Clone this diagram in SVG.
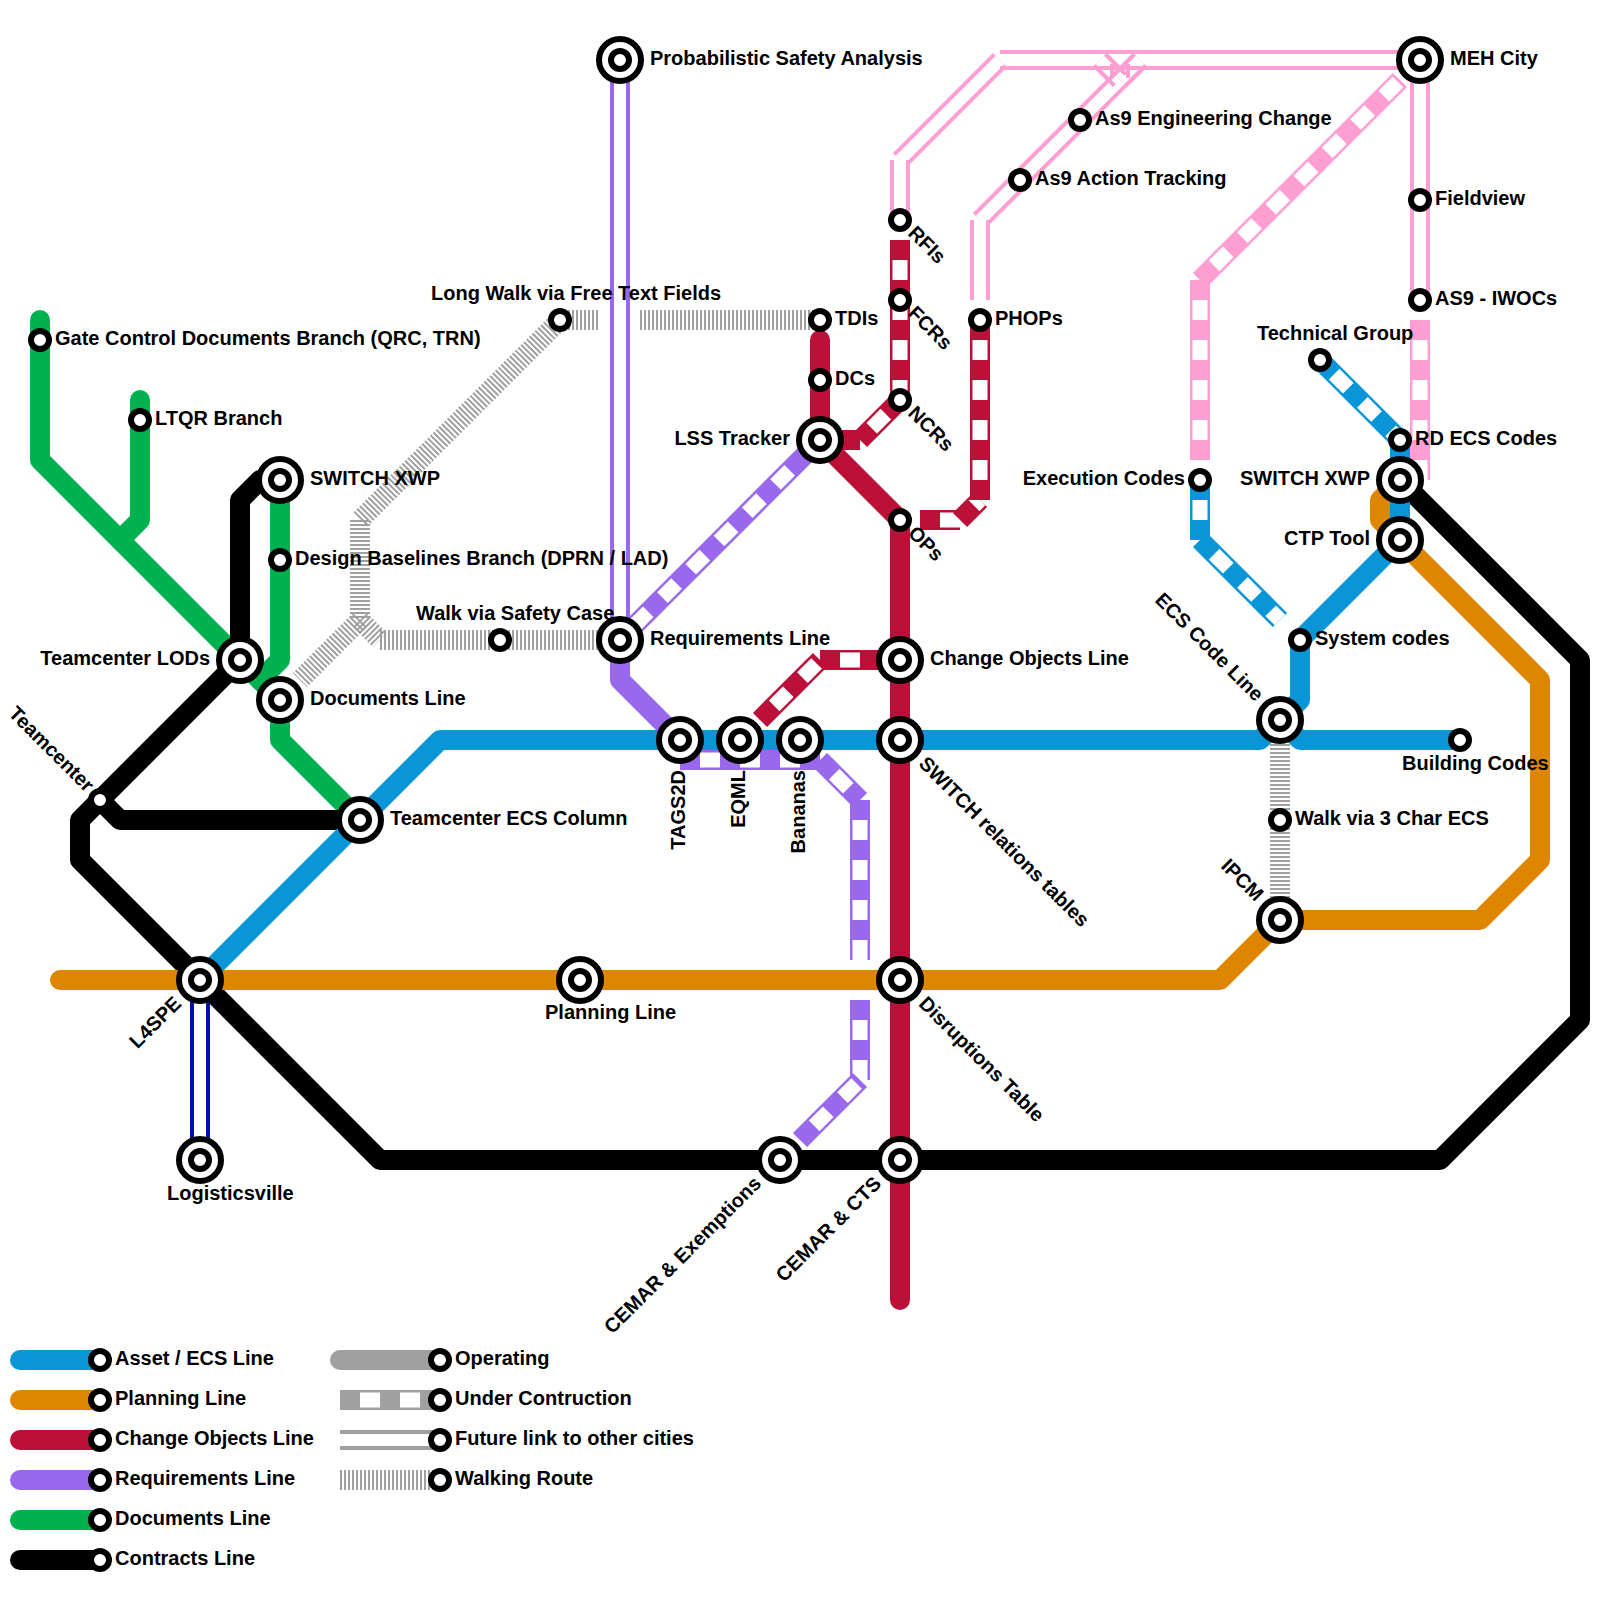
<svg xmlns="http://www.w3.org/2000/svg" width="1600" height="1600" viewBox="0 0 1600 1600">
<style>
path{fill:none}
.s{stroke-width:20;stroke-linecap:round;stroke-linejoin:round}
.u,.f,.w{stroke-width:20;stroke-linecap:butt;stroke-linejoin:miter}
.ui{stroke:#fff;stroke-width:15;stroke-dasharray:20 20;stroke-dashoffset:20}
.fi{stroke:#fff;stroke-width:12}
.w{stroke:#a0a0a0;stroke-dasharray:2 2}
.blue{stroke:#0a96d6}.orange{stroke:#de8600}.red{stroke:#bb1138}.purple{stroke:#9a68ec}.green{stroke:#00b150}.black{stroke:#000}.pink{stroke:#ff9ed3}.navy{stroke:#0010a8}.gray{stroke:#a0a0a0}
.o{fill:#fff;stroke:#000;stroke-width:6}
text{font-family:"Liberation Sans",Arial,sans-serif;font-weight:bold;font-size:20px;fill:#000}
.e{text-anchor:end}
</style>
<defs>
<g id="big"><circle class="o" r="21"/><circle class="o" r="9"/></g>
<circle id="small" class="o" r="9"/>
</defs>
<g id="connectors">
<!-- walking -->
<path class="w" d="M560 320H600"/>
<path class="w" d="M640 320H820"/>
<path class="w" d="M560 320L360 520"/>
<path class="w" d="M360 520V620"/>
<path class="w" d="M360 620L300 680"/>
<path class="w" d="M360 620L380 640"/>
<path class="w" d="M380 640H620"/>
<path class="w" d="M1280 720V920"/>
<!-- green -->
<path class="s green" d="M40 320V460L280 700V740L360 820"/>
<path class="s green" d="M140 400V520L120 540"/>
<path class="s green" d="M280 480V660L260 680"/>
<!-- black -->
<path class="s black" d="M280 480H260L240 500V660L80 820V860L380 1160H1440L1580 1020V660L1400 480"/>
<path class="s black" d="M100 800L120 820H360"/>
<!-- orange -->
<path class="s orange" d="M60 980H1220L1280 920H1480L1540 860V680L1380 520V500L1400 480"/>
<!-- blue -->
<path class="s blue" d="M200 980L440 740H1260L1280 720L1300 700V640L1400 540V440"/>
<path class="s blue" d="M1280 720L1300 740H1460"/>
<path class="u blue" d="M1320 360L1400 440"/><path class="ui" d="M1320 360L1400 440"/>
<path class="u blue" d="M1200 480V540"/><path class="ui" d="M1200 480V540"/>
<path class="u blue" d="M1200 540L1280 620"/><path class="ui" d="M1200 540L1280 620"/>
<!-- purple -->
<path class="s purple" d="M620 640V680L680 740"/>
<path class="f purple" d="M620 60V640"/><path class="fi" d="M620 60V640"/>
<path class="u purple" d="M620 640L820 440"/><path class="ui" d="M620 640L820 440"/>
<path class="u purple" d="M680 760H820"/><path class="ui" d="M680 760H820"/>
<path class="u purple" d="M820 760L860 800"/><path class="ui" d="M820 760L860 800"/>
<path class="u purple" d="M860 800V960"/><path class="ui" d="M860 800V960"/>
<path class="u purple" d="M860 1000V1080"/><path class="ui" d="M860 1000V1080"/>
<path class="u purple" d="M800 1140L860 1080"/><path class="ui" d="M800 1140L860 1080"/>
<!-- red -->
<path class="s red" d="M820 340V440L900 520V1300"/>
<path class="u red" d="M900 240V400"/><path class="ui" d="M900 240V400"/>
<path class="u red" d="M900 400L860 440"/><path class="ui" d="M900 400L860 440"/>
<path class="u red" d="M860 440H820"/><path class="ui" d="M860 440H820"/>
<path class="u red" d="M920 520H960"/><path class="ui" d="M920 520H960"/>
<path class="u red" d="M960 520L980 500"/><path class="ui" d="M960 520L980 500"/>
<path class="u red" d="M980 320V500"/><path class="ui" d="M980 320V500"/>
<path class="u red" d="M820 660H900"/><path class="ui" d="M820 660H900"/>
<path class="u red" d="M760 720L820 660"/><path class="ui" d="M760 720L820 660"/>
<!-- navy -->
<path class="f navy" d="M200 980V1160"/><path class="fi" d="M200 980V1160"/>
<!-- pink -->
<path class="f pink" d="M1420 60H1000"/><path class="fi" d="M1420 60H1000"/>
<path class="f pink" d="M1000 60L900 160"/><path class="fi" d="M1000 60L900 160"/>
<path class="f pink" d="M900 160V220"/><path class="fi" d="M900 160V220"/>
<path class="f pink" d="M1100 60L1120 80"/><path class="fi" d="M1100 60L1120 80"/>
<path class="f pink" d="M1140 60L1120 80"/><path class="fi" d="M1140 60L1120 80"/>
<path class="f pink" d="M1120 80L980 220"/><path class="fi" d="M1120 80L980 220"/>
<path class="pink" stroke-width="4" d="M1000 68H1420M1105.66 54.34L1125.66 74.34M1094.34 65.66L1114.34 85.66M1134.34 54.34L1114.34 74.34M1145.66 65.66L1125.66 85.66M1112 64V78M1128 64V78"/>
<path class="f pink" d="M980 220V300"/><path class="fi" d="M980 220V300"/>
<path class="f pink" d="M1420 60V300"/><path class="fi" d="M1420 60V300"/>
<path class="u pink" d="M1420 320V480"/><path class="ui" d="M1420 320V480"/>
<path class="u pink" d="M1200 280V460"/><path class="ui" d="M1200 280V460"/>
<path class="u pink" d="M1200 280L1400 80"/><path class="ui" d="M1200 280L1400 80"/>
</g>
<g id="stations">
<g id="n-probabilistic"><use href="#big" x="620" y="60"/><text x="650" y="65">Probabilistic Safety Analysis</text></g>
<g id="n-meh"><use href="#big" x="1420" y="60"/><text x="1450" y="65">MEH City</text></g>
<g id="n-lss"><use href="#big" x="820" y="440"/><text class="e" x="790" y="445">LSS Tracker</text></g>
<g id="n-xwp-r"><use href="#big" x="1400" y="480"/><text class="e" x="1370" y="485">SWITCH XWP</text></g>
<g id="n-ctp"><use href="#big" x="1400" y="540"/><text class="e" x="1370" y="545">CTP Tool</text></g>
<g id="n-req"><use href="#big" x="620" y="640"/><text x="650" y="645">Requirements Line</text></g>
<g id="n-change"><use href="#big" x="900" y="660"/><text x="930" y="665">Change Objects Line</text></g>
<g id="n-tags"><use href="#big" x="680" y="740"/><text class="e" transform="translate(680 740) rotate(-90)" x="-30" y="5">TAGS2D</text></g>
<g id="n-eqml"><use href="#big" x="740" y="740"/><text class="e" transform="translate(740 740) rotate(-90)" x="-30" y="5">EQML</text></g>
<g id="n-bananas"><use href="#big" x="800" y="740"/><text class="e" transform="translate(800 740) rotate(-90)" x="-30" y="5">Bananas</text></g>
<g id="n-relations"><use href="#big" x="900" y="740"/><text transform="translate(900 740) rotate(45)" x="30" y="5">SWITCH relations tables</text></g>
<g id="n-ecs"><use href="#big" x="1280" y="720"/><text class="e" transform="translate(1280 720) rotate(45)" x="-30" y="5">ECS Code Line</text></g>
<g id="n-tecs"><use href="#big" x="360" y="820"/><text x="390" y="825">Teamcenter ECS Column</text></g>
<g id="n-ipcm"><use href="#big" x="1280" y="920"/><text class="e" transform="translate(1280 920) rotate(45)" x="-30" y="5">IPCM</text></g>
<g id="n-l4spe"><use href="#big" x="200" y="980"/><text class="e" transform="translate(200 980) rotate(-45)" x="-30" y="5">L4SPE</text></g>
<g id="n-planning"><use href="#big" x="580" y="980"/><text x="545" y="1019">Planning Line</text></g>
<g id="n-disruptions"><use href="#big" x="900" y="980"/><text transform="translate(900 980) rotate(45)" x="30" y="5">Disruptions Table</text></g>
<g id="n-logistics"><use href="#big" x="200" y="1160"/><text x="167" y="1200">Logisticsville</text></g>
<g id="n-cemar-e"><use href="#big" x="780" y="1160"/><text class="e" transform="translate(780 1160) rotate(-45)" x="-30" y="5">CEMAR &amp; Exemptions</text></g>
<g id="n-cemar-c"><use href="#big" x="900" y="1160"/><text class="e" transform="translate(900 1160) rotate(-45)" x="-30" y="5">CEMAR &amp; CTS</text></g>
<g id="n-lods"><use href="#big" x="240" y="660"/><text class="e" x="210" y="665">Teamcenter LODs</text></g>
<g id="n-docs"><use href="#big" x="280" y="700"/><text x="310" y="705">Documents Line</text></g>
<g id="n-xwp-l"><use href="#big" x="280" y="480"/><text x="310" y="485">SWITCH XWP</text></g>
<g id="n-gate"><use href="#small" x="40" y="340"/><text x="55" y="345">Gate Control Documents Branch (QRC, TRN)</text></g>
<g id="n-ltqr"><use href="#small" x="140" y="420"/><text x="155" y="425">LTQR Branch</text></g>
<g id="n-design"><use href="#small" x="280" y="560"/><text x="295" y="565">Design Baselines Branch (DPRN / LAD)</text></g>
<g id="n-longwalk"><use href="#small" x="560" y="320"/><text x="431" y="300">Long Walk via Free Text Fields</text></g>
<g id="n-walksafety"><use href="#small" x="500" y="640"/><text x="416" y="620">Walk via Safety Case</text></g>
<g id="n-tdis"><use href="#small" x="820" y="320"/><text x="835" y="325">TDIs</text></g>
<g id="n-dcs"><use href="#small" x="820" y="380"/><text x="835" y="385">DCs</text></g>
<g id="n-rfis"><use href="#small" x="900" y="220"/><text transform="translate(900 220) rotate(45)" x="15" y="5">RFIs</text></g>
<g id="n-fcrs"><use href="#small" x="900" y="300"/><text transform="translate(900 300) rotate(45)" x="15" y="5">FCRs</text></g>
<g id="n-ncrs"><use href="#small" x="900" y="400"/><text transform="translate(900 400) rotate(45)" x="15" y="5">NCRs</text></g>
<g id="n-ops"><use href="#small" x="900" y="520"/><text transform="translate(900 520) rotate(45)" x="15" y="5">OPs</text></g>
<g id="n-phops"><use href="#small" x="980" y="320"/><text x="995" y="325">PHOPs</text></g>
<g id="n-action"><use href="#small" x="1020" y="180"/><text x="1035" y="185">As9 Action Tracking</text></g>
<g id="n-eng"><use href="#small" x="1080" y="120"/><text x="1095" y="125">As9 Engineering Change</text></g>
<g id="n-fieldview"><use href="#small" x="1420" y="200"/><text x="1435" y="205">Fieldview</text></g>
<g id="n-iwocs"><use href="#small" x="1420" y="300"/><text x="1435" y="305">AS9 - IWOCs</text></g>
<g id="n-tech"><use href="#small" x="1320" y="360"/><text x="1257" y="340">Technical Group</text></g>
<g id="n-rd"><use href="#small" x="1400" y="440"/><text x="1415" y="445">RD ECS Codes</text></g>
<g id="n-exec"><use href="#small" x="1200" y="480"/><text class="e" x="1185" y="485">Execution Codes</text></g>
<g id="n-system"><use href="#small" x="1300" y="640"/><text x="1315" y="645">System codes</text></g>
<g id="n-building"><use href="#small" x="1460" y="740"/><text x="1402" y="770">Building Codes</text></g>
<g id="n-3char"><use href="#small" x="1280" y="820"/><text x="1295" y="825">Walk via 3 Char ECS</text></g>
<g id="n-teamcenter"><use href="#small" x="100" y="800"/><text class="e" transform="translate(100 800) rotate(45)" x="-15" y="5">Teamcenter</text></g>
</g>
<g id="legend">
<g id="l-asset"><path class="s blue" d="M20 1360H100"/><use href="#small" x="100" y="1360"/><text x="115" y="1365">Asset / ECS Line</text></g>
<g id="l-planning"><path class="s orange" d="M20 1400H100"/><use href="#small" x="100" y="1400"/><text x="115" y="1405">Planning Line</text></g>
<g id="l-change"><path class="s red" d="M20 1440H100"/><use href="#small" x="100" y="1440"/><text x="115" y="1445">Change Objects Line</text></g>
<g id="l-req"><path class="s purple" d="M20 1480H100"/><use href="#small" x="100" y="1480"/><text x="115" y="1485">Requirements Line</text></g>
<g id="l-docs"><path class="s green" d="M20 1520H100"/><use href="#small" x="100" y="1520"/><text x="115" y="1525">Documents Line</text></g>
<g id="l-contracts"><path class="s black" d="M20 1560H100"/><use href="#small" x="100" y="1560"/><text x="115" y="1565">Contracts Line</text></g>
<g id="l-op"><path class="s gray" d="M340 1360H440"/><use href="#small" x="440" y="1360"/><text x="455" y="1365">Operating</text></g>
<g id="l-uc"><path class="u gray" d="M340 1400H440"/><path class="ui" d="M340 1400H440"/><use href="#small" x="440" y="1400"/><text x="455" y="1405">Under Contruction</text></g>
<g id="l-future"><path class="f gray" d="M340 1440H440"/><path class="fi" d="M340 1440H440"/><use href="#small" x="440" y="1440"/><text x="455" y="1445">Future link to other cities</text></g>
<g id="l-walk"><path class="w" d="M340 1480H440"/><use href="#small" x="440" y="1480"/><text x="455" y="1485">Walking Route</text></g>
</g>
</svg>
